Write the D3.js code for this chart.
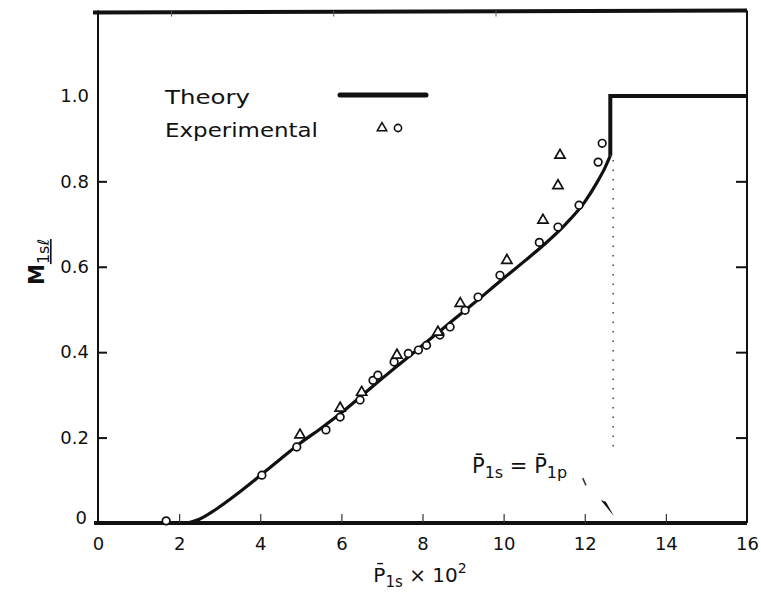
<!DOCTYPE html>
<html><head><meta charset="utf-8">
<script src="https://cdn.jsdelivr.net/npm/d3@7"></script>
<style>
html,body{margin:0;padding:0;background:#fff;}
svg text{font-family:"DejaVu Sans","Liberation Sans",sans-serif;fill:#111;}
</style></head>
<body>
<svg id="c" width="761" height="595"></svg>
<script>
// ---- data ----
const xTicks = [0,2,4,6,8,10,12,14,16];
const yTicks = [0,0.2,0.4,0.6,0.8,1.0];
const yTickLabels = ["0","0.2","0.4","0.6","0.8","1.0"];
const innerYTicks = [0.2,0.4,0.6,0.8];
const innerXTicks = [2,4,6,8,10,12,14];
const topTicks = [1.8,5.8,9.8];
// theory curve (smooth part) and step part
const theoryX = [2.2,2.5,3,3.5,4,4.5,5,5.5,6,6.5,7,7.5,8,8.5,9,9.5,10,10.5,11,11.5,12,12.3,12.5,12.63];
const theoryY = [0,0.009,0.038,0.073,0.111,0.15,0.188,0.222,0.258,0.298,0.338,0.377,0.416,0.455,0.494,0.533,0.573,0.612,0.652,0.697,0.752,0.797,0.832,0.86];
const stepX = [12.63,12.63,16];
const stepY = [0.86,1.0,1.0];
// experimental points
const circX = [1.68,4.04,4.9,5.62,5.97,6.46,6.78,6.9,7.3,7.65,7.9,8.1,8.43,8.68,9.05,9.37,9.91,10.88,11.34,11.86,12.33,12.43];
const circY = [0.005,0.112,0.178,0.218,0.248,0.288,0.334,0.346,0.377,0.397,0.405,0.416,0.44,0.459,0.498,0.529,0.58,0.657,0.693,0.744,0.845,0.889];
const triX = [4.98,5.97,6.5,7.37,8.38,8.93,10.08,10.97,11.34,11.39];
const triY = [0.206,0.269,0.306,0.393,0.447,0.514,0.615,0.709,0.79,0.861];
// annotation
const critX = 12.7;
const dotY = [0.85,0.17];

// ---- scales ----
const svg = d3.select("#c");
const x = d3.scaleLinear().domain([0,16]).range([98,747]);
const y = d3.scaleLinear().domain([0,1.2]).range([523,10.5]);

// frame
svg.append("line").attr("x1",x(0)-5).attr("x2",x(16)).attr("y1",y(1.2)+2).attr("y2",y(1.2)).attr("stroke","#111").attr("stroke-width",4);
svg.append("line").attr("x1",x(0)).attr("x2",x(0)).attr("y1",y(1.2)).attr("y2",y(0)).attr("stroke","#111").attr("stroke-width",2);
svg.append("line").attr("x1",x(16)).attr("x2",x(16)).attr("y1",y(1.2)).attr("y2",y(0)).attr("stroke","#111").attr("stroke-width",2);
svg.append("line").attr("x1",x(0)-4).attr("x2",x(16)).attr("y1",y(0)).attr("y2",y(0)).attr("stroke","#111").attr("stroke-width",4);

// x axis labels
const xAxis = d3.axisBottom(x).tickValues(xTicks).tickSize(0).tickPadding(14).tickFormat(d3.format("d"));
const gx = svg.append("g").attr("transform",`translate(0,${y(0)})`).call(xAxis);
gx.select(".domain").remove();
gx.selectAll("text").style("font-size","18px").style("font-family","DejaVu Sans, sans-serif").attr("fill","#111");
// inward bottom ticks
const gxi = svg.append("g").attr("transform",`translate(0,${y(0)})`).call(d3.axisBottom(x).tickValues(innerXTicks).tickSize(-9).tickFormat(""));
gxi.select(".domain").remove();
gxi.selectAll("line").attr("stroke","#333").attr("stroke-width",1.2);
// top ticks
const gxt = svg.append("g").attr("transform",`translate(0,${y(1.2)})`).call(d3.axisTop(x).tickValues(topTicks).tickSize(-6).tickFormat(""));
gxt.select(".domain").remove();
gxt.selectAll("line").attr("stroke","#555").attr("stroke-width",1);

// y axis labels
const yAxis = d3.axisLeft(y).tickValues(yTicks).tickSize(0).tickPadding(9).tickFormat((d,i)=>yTickLabels[i]);
const gy = svg.append("g").attr("transform",`translate(${x(0)},0)`).call(yAxis);
gy.select(".domain").remove();
gy.selectAll("text").style("font-size","18px").style("font-family","DejaVu Sans, sans-serif").attr("fill","#111");
gy.selectAll(".tick").filter(d=>d===0).select("text").attr("dy","0.05em").attr("x",-11);
// inward left ticks
const gyi = svg.append("g").attr("transform",`translate(${x(0)},0)`).call(d3.axisLeft(y).tickValues(innerYTicks).tickSize(-9).tickFormat(""));
gyi.select(".domain").remove();
gyi.selectAll("line").attr("stroke","#111").attr("stroke-width",2);
// inward right ticks
const gyr = svg.append("g").attr("transform",`translate(${x(16)},0)`).call(d3.axisRight(y).tickValues(innerYTicks).tickSize(-11).tickFormat(""));
gyr.select(".domain").remove();
gyr.selectAll("line").attr("stroke","#111").attr("stroke-width",2);

// dotted critical line
svg.append("line").attr("x1",x(critX)).attr("x2",x(critX)).attr("y1",y(dotY[0])).attr("y2",y(dotY[1]))
  .attr("stroke","#444").attr("stroke-width",1.5).attr("stroke-dasharray","1.5,8");

// theory curve
const tpts = theoryX.map((v,i)=>[v,theoryY[i]]);
const lineGen = d3.line().x(d=>x(d[0])).y(d=>y(d[1]));
svg.append("path").attr("d",lineGen.curve(d3.curveMonotoneX)(tpts)).attr("fill","none").attr("stroke","#111").attr("stroke-width",3.2);
const spts = stepX.map((v,i)=>[v,stepY[i]]);
svg.append("path").attr("d",d3.line().x(d=>x(d[0])).y(d=>y(d[1]))(spts)).attr("fill","none").attr("stroke","#111").attr("stroke-width",4).attr("stroke-linejoin","miter");

// experimental circles
svg.append("g").selectAll("circle").data(circX.map((v,i)=>[v,circY[i]])).join("circle")
  .attr("cx",d=>x(d[0])).attr("cy",d=>y(d[1])).attr("r",3.8)
  .attr("fill","#fff").attr("stroke","#111").attr("stroke-width",1.7);
// triangles
const triSym = d3.symbol().type(d3.symbolTriangle).size(45);
svg.append("g").selectAll("path").data(triX.map((v,i)=>[v,triY[i]])).join("path")
  .attr("d",triSym).attr("transform",d=>`translate(${x(d[0])},${y(d[1])})`)
  .attr("fill","#fff").attr("stroke","#111").attr("stroke-width",1.7);

// legend
svg.append("text").attr("x",165).attr("y",104).attr("textLength",85).attr("lengthAdjust","spacingAndGlyphs").style("font-size","20px").text("Theory");
svg.append("line").attr("x1",340).attr("x2",426).attr("y1",95).attr("y2",95).attr("stroke","#111").attr("stroke-width",5).attr("stroke-linecap","round");
svg.append("text").attr("x",165).attr("y",137).attr("textLength",153).attr("lengthAdjust","spacingAndGlyphs").style("font-size","20px").text("Experimental");
svg.append("path").attr("d",d3.symbol().type(d3.symbolTriangle).size(38)).attr("transform","translate(382,128)").attr("fill","#fff").attr("stroke","#111").attr("stroke-width",1.6);
svg.append("circle").attr("cx",398).attr("cy",128).attr("r",3.6).attr("fill","#fff").attr("stroke","#111").attr("stroke-width",1.6);

// annotation P1s = P1p
const ann = svg.append("text").attr("x",472).attr("y",473).style("font-size","21px");
ann.append("tspan").text("P\u0304");
ann.append("tspan").attr("dy",5).style("font-size","16px").text("1s");
ann.append("tspan").attr("dy",-5).text(" = P\u0304");
ann.append("tspan").attr("dy",5).style("font-size","16px").text("1p");
// arrow fragments
svg.append("line").attr("x1",x(11.95)).attr("y1",y(0.105)).attr("x2",x(12.03)).attr("y2",y(0.088)).attr("stroke","#333").attr("stroke-width",1.5);
const arrowPts = [[12.4,0.053],[12.52,0.05],[12.72,0.016]];
svg.append("path").attr("d",d3.line().x(d=>x(d[0])).y(d=>y(d[1]))(arrowPts)+"Z").attr("fill","#111");

// axis titles
const yl = svg.append("text").attr("transform","translate(44,262) rotate(-90)").attr("text-anchor","middle").style("font-size","21px").style("font-weight","bold");
yl.append("tspan").text("M");
yl.append("tspan").attr("dy",5).style("font-size","16px").style("font-weight","normal").style("text-decoration","underline").text("1s\u2113");

const xl = svg.append("text").attr("x",420).attr("y",582).attr("text-anchor","middle").style("font-size","20px");
xl.append("tspan").text("P\u0304");
xl.append("tspan").attr("dy",5).style("font-size","15px").text("1s");
xl.append("tspan").attr("dy",-5).text(" \u00d7 10");
xl.append("tspan").attr("dy",-9).style("font-size","14px").text("2");
</script>
</body></html>
